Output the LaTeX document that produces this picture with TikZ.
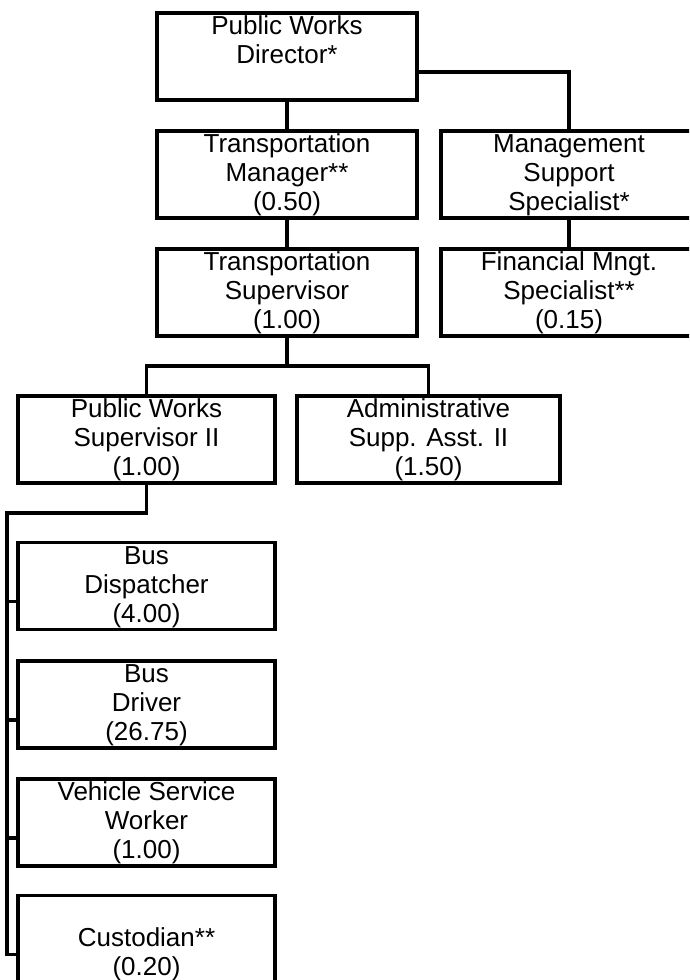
\documentclass[tikz,border=0pt]{standalone}
\usepackage{fontspec}
\setmainfont{Liberation Sans}
% invisible strut that fixes the first baseline below the box top
\newcommand\firstline{\rule{0pt}{21.7pt}}
\begin{document}
\begin{tikzpicture}[x=1pt, y=-1pt, line width=3.3pt,
  box/.style={draw=black, rectangle, inner sep=0pt, outer sep=0pt,
    minimum width=260pt, minimum height=87pt},
  title/.style={anchor=north, inner sep=0pt, outer sep=0pt, align=center,
    font=\fontsize{26}{29}\selectfont}]
  \useasboundingbox (0,0) rectangle (689,980);
  \clip (0,0) rectangle (689,980);

  % management chain
  \node[box] (dir) at (287,56.5) {};
  \node[title] (dirT) at (dir.north) {\firstline Public Works\\Director*};
  \node[box] (mgr) at (287,174.5) {};
  \node[title] (mgrT) at (mgr.north) {\firstline Transportation\\Manager**\\(0.50)};
  \node[box, minimum width=256pt] (mss) at (569,174.5) {};
  \node[title] (mssT) at (mss.north) {\firstline Management\\Support\\Specialist*};
  \node[box] (sup) at (287,292.5) {};
  \node[title] (supT) at (sup.north) {\firstline Transportation\\Supervisor\\(1.00)};
  \node[box, minimum width=256pt] (fin) at (569,292.5) {};
  \node[title] (finT) at (fin.north) {\firstline Financial Mngt.\\Specialist**\\(0.15)};

  % supervisor level
  \node[box, minimum width=257pt] (pws) at (146.5,439.5) {};
  \node[title] (pwsT) at (pws.north) {\firstline Public Works\\Supervisor II\\(1.00)};
  \node[box, minimum width=263pt] (adm) at (428.5,439.5) {};
  \node[title] (admT) at (adm.north) {\firstline Administrative\\Supp. Asst. II\\(1.50)};

  % operating staff
  \node[box, minimum width=257pt] (bd) at (146.5,586) {};
  \node[title] (bdT) at (bd.north) {\firstline Bus\\Dispatcher\\(4.00)};
  \node[box, minimum width=257pt] (drv) at (146.5,704.5) {};
  \node[title] (drvT) at (drv.north) {\firstline Bus\\Driver\\(26.75)};
  \node[box, minimum width=257pt] (vsw) at (146.5,822.5) {};
  \node[title] (vswT) at (vsw.north) {\firstline Vehicle Service\\Worker\\(1.00)};
  \node[box, minimum width=257pt] (cus) at (146.5,939) {};
  \node[title] (cusT) at (cus.north) {\firstline\\Custodian**\\(0.20)};

  % reporting lines
  \coordinate (dirR) at ([yshift=-15.5pt]dir.east);
  \draw (dir.south) -- (mgr.north);
  \draw (dirR) -| (mss.north);
  \draw (mgr.south) -- (sup.north);
  \draw (mss.south) -- (fin.north);

  \coordinate (split) at (287,366);
  \draw (sup.south) -- (split);
  \draw (pws.north) |- (split) -| (adm.north);

  \coordinate (drop) at (7,513);
  \draw (pws.south) |- (drop) |- ([yshift=-15.5pt]cus.west);
  \foreach \b in {bd,drv,vsw}
    \draw (drop) |- ([yshift=-15.5pt]\b.west);
\end{tikzpicture}
\end{document}
